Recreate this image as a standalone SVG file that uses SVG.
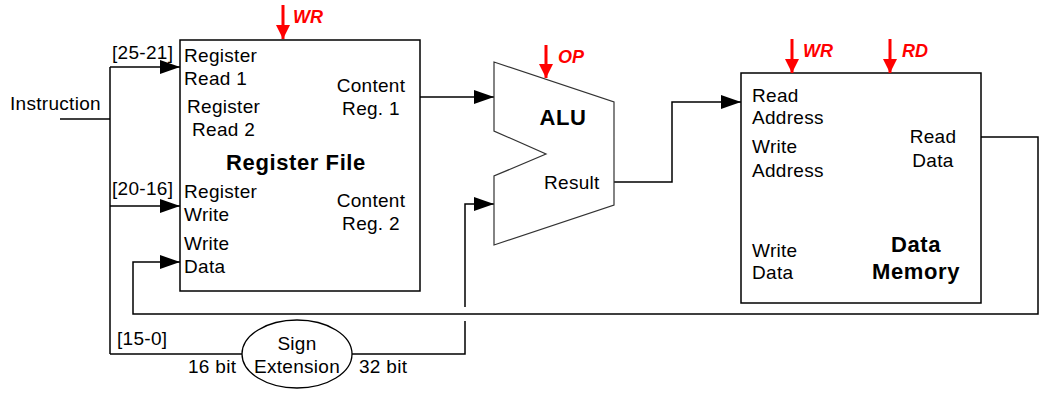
<svg xmlns="http://www.w3.org/2000/svg" width="1060" height="400" viewBox="0 0 1060 400">
<style>
  .t { font-family: "Liberation Sans", Arial, sans-serif; font-size: 19px; fill: #000; letter-spacing: 0.3px; }
  .b { font-family: "Liberation Sans", Arial, sans-serif; font-size: 22px; font-weight: bold; fill: #000; letter-spacing: 0.6px; }
  .r { font-family: "Liberation Sans", Arial, sans-serif; font-size: 18px; font-weight: bold; font-style: italic; fill: #ff0000; }
  .m { text-anchor: middle; }
  .box { fill: #fff; stroke: #000; stroke-width: 1.5; }
  .wire { fill: none; stroke: #000; stroke-width: 1.5; }
  .ctl { stroke: #ff0000; stroke-width: 3; fill: none; }
</style>
<defs>
  <marker id="ah" markerUnits="userSpaceOnUse" markerWidth="20" markerHeight="14" refX="20" refY="7" orient="auto">
    <path d="M0,0 L20,7 L0,14 z" fill="#000"/>
  </marker>
  <marker id="rh" markerUnits="userSpaceOnUse" markerWidth="14" markerHeight="14" refX="14" refY="7" orient="auto">
    <path d="M0,0 L14,7 L0,14 z" fill="#ff0000"/>
  </marker>
</defs>

<g id="connectors">
  <path class="wire" d="M60,119 H110"/>
  <path class="wire" d="M110,67 V354"/>
  <path class="wire" d="M110,67 H180" marker-end="url(#ah)"/>
  <path class="wire" d="M110,206 H180" marker-end="url(#ah)"/>
  <path class="wire" d="M110,354 H242"/>
  <path class="wire" d="M352,354 H465 V321"/>
  <path class="wire" d="M465,307 V204 H494" marker-end="url(#ah)"/>
  <path class="wire" d="M420,97 H494" marker-end="url(#ah)"/>
  <path class="wire" d="M614,182 H672 V102 H741" marker-end="url(#ah)"/>
  <path class="wire" d="M981,137 H1038 V314 H133 V262 H180" marker-end="url(#ah)"/>
</g>

<g id="instruction">
  <text class="t" x="10" y="110">Instruction</text>
  <text class="t" x="112" y="59">[25-21]</text>
  <text class="t" x="112" y="195">[20-16]</text>
  <text class="t" x="117" y="345">[15-0]</text>
</g>

<g id="register-file">
  <rect class="box" x="180" y="40" width="240" height="251"/>
  <path class="ctl" d="M283,5 V39" marker-end="url(#rh)"/>
  <text class="r" x="293" y="23">WR</text>
  <text class="t" x="184" y="62">Register</text>
  <text class="t" x="184" y="85">Read 1</text>
  <text class="t" x="187" y="113">Register</text>
  <text class="t" x="192" y="136">Read 2</text>
  <text class="t m" x="371" y="92">Content</text>
  <text class="t m" x="371" y="115">Reg. 1</text>
  <text class="b m" x="296" y="170">Register File</text>
  <text class="t" x="184" y="198">Register</text>
  <text class="t" x="184" y="221">Write</text>
  <text class="t m" x="371" y="207">Content</text>
  <text class="t m" x="371" y="230">Reg. 2</text>
  <text class="t" x="184" y="250">Write</text>
  <text class="t" x="184" y="273">Data</text>
</g>

<g id="sign-extension">
  <ellipse cx="297" cy="354" rx="55" ry="34" fill="#fff" stroke="#000" stroke-width="1.3"/>
  <text class="t m" x="297" y="350">Sign</text>
  <text class="t m" x="297" y="373">Extension</text>
  <text class="t" x="188" y="373">16 bit</text>
  <text class="t" x="359" y="373">32 bit</text>
</g>

<g id="alu">
  <path d="M494,62 L614,102 L614,205 L494,245 L494,176 L546,154 L494,131 Z" fill="#fff" stroke="#333" stroke-width="1.2"/>
  <path class="ctl" d="M546,45 V78" marker-end="url(#rh)"/>
  <text class="r" x="558" y="63">OP</text>
  <text class="b m" x="563" y="125">ALU</text>
  <text class="t" x="544" y="189">Result</text>
</g>

<g id="data-memory">
  <rect class="box" x="741" y="73" width="240" height="230"/>
  <path class="ctl" d="M792,39 V73" marker-end="url(#rh)"/>
  <text class="r" x="803" y="57">WR</text>
  <path class="ctl" d="M890,39 V73" marker-end="url(#rh)"/>
  <text class="r" x="902" y="57">RD</text>
  <text class="t" x="752" y="102">Read</text>
  <text class="t" x="752" y="124">Address</text>
  <text class="t" x="752" y="153">Write</text>
  <text class="t" x="752" y="177">Address</text>
  <text class="t m" x="933" y="143">Read</text>
  <text class="t m" x="933" y="167">Data</text>
  <text class="t" x="752" y="257">Write</text>
  <text class="t" x="752" y="279">Data</text>
  <text class="b m" x="916" y="252">Data</text>
  <text class="b m" x="916" y="279">Memory</text>
</g>
</svg>
